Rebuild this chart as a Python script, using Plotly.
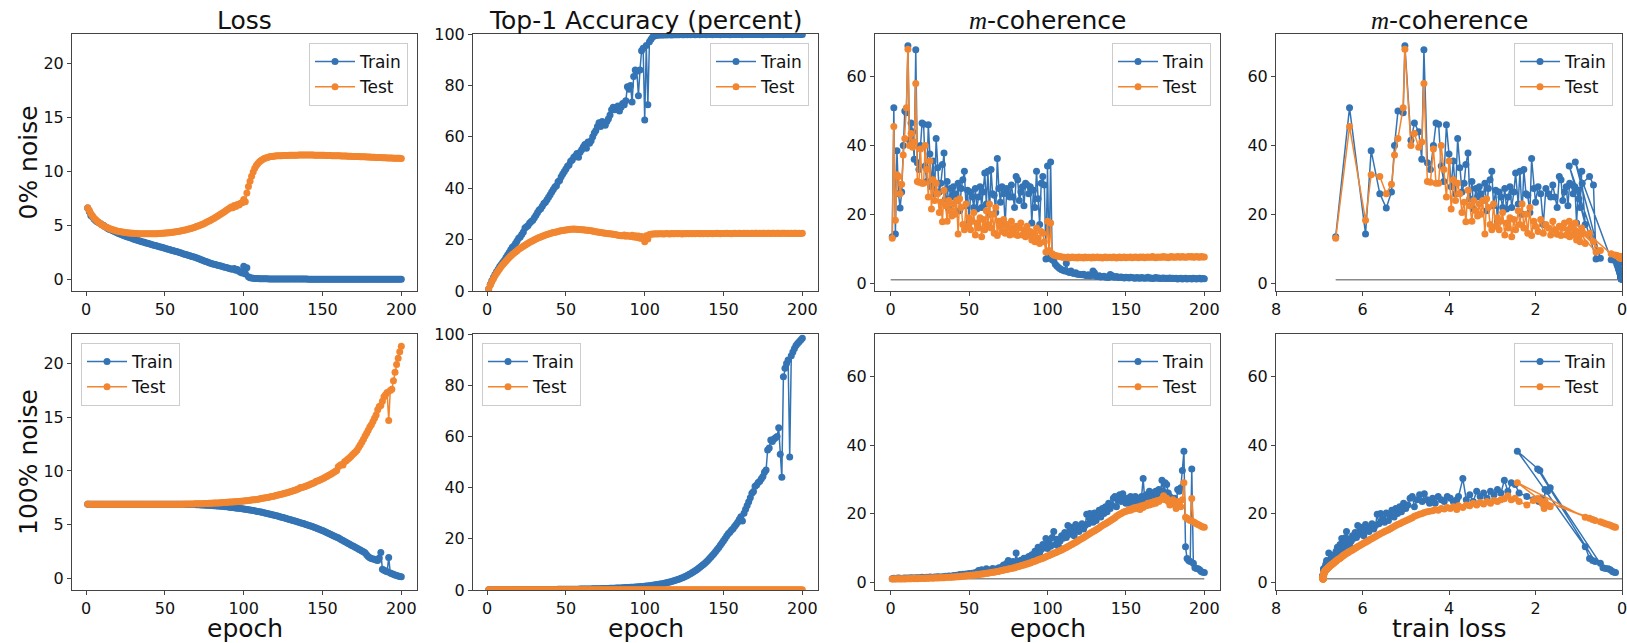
import plotly.graph_objects as go

# ---------------- data ----------------
epochs = list(range(1, 201))

# 0% noise ------------------------------------------------------
loss0_train = [
    6.62, 6.30, 5.93, 5.80, 5.60, 5.45, 5.33, 5.26, 5.18, 5.06,
    5.02, 4.88, 4.80, 4.70, 4.63, 4.58, 4.50, 4.43, 4.36, 4.30,
    4.24, 4.18, 4.12, 4.06, 4.00, 3.95, 3.90, 3.85, 3.80, 3.75,
    3.70, 3.65, 3.61, 3.56, 3.52, 3.47, 3.43, 3.38, 3.34, 3.30,
    3.26, 3.22, 3.17, 3.13, 3.09, 3.05, 3.01, 2.97, 2.92, 2.88,
    2.84, 2.80, 2.76, 2.71, 2.67, 2.63, 2.59, 2.55, 2.50, 2.46,
    2.40, 2.36, 2.31, 2.27, 2.22, 2.18, 2.13, 2.09, 2.04, 2.00,
    1.94, 1.88, 1.82, 1.76, 1.70, 1.65, 1.60, 1.55, 1.50, 1.45,
    1.41, 1.37, 1.33, 1.29, 1.25, 1.21, 1.17, 1.13, 1.09, 1.05,
    1.01, 0.97, 0.93, 1.00, 0.85, 0.92, 0.75, 0.66, 0.60, 1.22,
    0.50, 1.08, 0.25, 0.16, 0.12, 0.10, 0.09, 0.08, 0.07, 0.065,
    0.060, 0.056, 0.052, 0.049, 0.046, 0.044, 0.042, 0.040, 0.038, 0.036,
    0.035, 0.034, 0.033, 0.032, 0.031, 0.030, 0.029, 0.028, 0.028, 0.027,
    0.026, 0.026, 0.025, 0.025, 0.024, 0.024, 0.023, 0.023, 0.022, 0.022,
    0.021, 0.021, 0.021, 0.020, 0.020, 0.020, 0.019, 0.019, 0.019, 0.018,
    0.018, 0.018, 0.017, 0.017, 0.017, 0.016, 0.016, 0.016, 0.016, 0.015,
    0.015, 0.015, 0.015, 0.014, 0.014, 0.014, 0.014, 0.014, 0.013, 0.013,
    0.013, 0.013, 0.013, 0.012, 0.012, 0.012, 0.012, 0.012, 0.012, 0.011,
    0.011, 0.011, 0.011, 0.011, 0.011, 0.011, 0.010, 0.010, 0.010, 0.010,
    0.010, 0.010, 0.010, 0.010, 0.010, 0.009, 0.009, 0.009, 0.009, 0.009,
]
loss0_test = [
    6.65, 6.40, 6.10, 5.90, 5.70, 5.55, 5.40, 5.28, 5.17, 5.07,
    4.98, 4.90, 4.83, 4.76, 4.70, 4.65, 4.60, 4.55, 4.51, 4.47,
    4.44, 4.41, 4.38, 4.36, 4.34, 4.32, 4.30, 4.29, 4.28, 4.27,
    4.26, 4.25, 4.24, 4.23, 4.23, 4.22, 4.22, 4.22, 4.22, 4.22,
    4.22, 4.23, 4.23, 4.24, 4.24, 4.25, 4.26, 4.27, 4.28, 4.29,
    4.30, 4.32, 4.33, 4.35, 4.37, 4.39, 4.41, 4.43, 4.46, 4.49,
    4.52, 4.55, 4.58, 4.62, 4.66, 4.70, 4.74, 4.79, 4.84, 4.89,
    4.94, 5.00, 5.06, 5.12, 5.19, 5.26, 5.33, 5.41, 5.49, 5.57,
    5.65, 5.74, 5.83, 5.92, 6.01, 6.10, 6.20, 6.30, 6.40, 6.50,
    6.60, 6.72, 6.65, 6.85, 6.75, 6.95, 6.90, 7.05, 7.10, 7.40,
    7.20, 8.00, 8.60, 9.10, 9.55, 9.95, 10.30, 10.55, 10.75, 10.90,
    11.02, 11.12, 11.20, 11.26, 11.31, 11.35, 11.38, 11.40, 11.42, 11.44,
    11.45, 11.46, 11.47, 11.47, 11.48, 11.48, 11.49, 11.49, 11.50, 11.50,
    11.50, 11.51, 11.51, 11.51, 11.52, 11.52, 11.52, 11.52, 11.52, 11.52,
    11.52, 11.52, 11.52, 11.52, 11.51, 11.51, 11.51, 11.51, 11.50, 11.50,
    11.50, 11.49, 11.49, 11.48, 11.48, 11.47, 11.47, 11.46, 11.46, 11.45,
    11.45, 11.44, 11.44, 11.43, 11.43, 11.42, 11.41, 11.41, 11.40, 11.40,
    11.39, 11.39, 11.38, 11.37, 11.37, 11.36, 11.36, 11.35, 11.34, 11.34,
    11.33, 11.32, 11.32, 11.31, 11.30, 11.30, 11.29, 11.28, 11.28, 11.27,
    11.26, 11.26, 11.25, 11.25, 11.24, 11.23, 11.23, 11.22, 11.22, 11.21,
]
acc0_train = [
    0.8, 2.5, 4.0, 5.3, 6.4, 7.5, 8.5, 9.5, 10.3, 11.2,
    12.0, 13.0, 14.0, 15.0, 16.0, 17.0, 17.5, 18.5, 19.5, 20.5,
    21.0, 22.0, 23.0, 24.5, 25.0, 25.5, 26.5, 27.0, 27.5, 28.5,
    29.5, 30.5, 31.5, 32.0, 33.0, 34.0, 34.5, 35.5, 36.5, 37.5,
    38.5, 39.5, 40.5, 41.0, 42.5, 43.0, 44.5, 45.5, 46.5, 47.5,
    48.5, 49.0, 50.5, 51.0, 52.0, 52.5, 53.5, 52.0, 54.0, 55.0,
    56.0, 57.0, 55.5, 58.0, 57.5, 58.5, 60.0, 61.5, 62.5, 64.0,
    65.5, 64.0, 66.0, 65.0, 64.5, 66.0, 67.0, 68.5, 70.5, 71.5,
    70.5, 71.0, 72.0, 70.0, 71.5, 73.0, 72.5, 74.0, 79.5, 78.5,
    80.0, 73.5, 83.5, 86.0, 85.5, 76.0, 86.0, 93.5, 94.5, 66.5,
    95.5, 72.5, 97.0, 98.0, 98.8, 99.2, 99.4, 99.5, 99.6, 99.6,
    99.6, 99.6, 99.7, 99.6, 99.7, 99.7, 99.6, 99.7, 99.7, 99.7,
    99.7, 99.7, 99.8, 99.7, 99.7, 99.8, 99.7, 99.8, 99.7, 99.8,
    99.8, 99.7, 99.8, 99.8, 99.7, 99.8, 99.8, 99.8, 99.7, 99.8,
    99.8, 99.8, 99.7, 99.8, 99.8, 99.8, 99.8, 99.7, 99.8, 99.8,
    99.8, 99.8, 99.8, 99.7, 99.8, 99.8, 99.8, 99.8, 99.8, 99.8,
    99.8, 99.7, 99.8, 99.8, 99.8, 99.8, 99.8, 99.8, 99.8, 99.8,
    99.8, 99.8, 99.8, 99.8, 99.7, 99.8, 99.8, 99.8, 99.8, 99.8,
    99.8, 99.8, 99.8, 99.8, 99.8, 99.8, 99.8, 99.7, 99.8, 99.8,
    99.8, 99.8, 99.8, 99.8, 99.8, 99.8, 99.8, 99.8, 99.8, 99.8,
]
acc0_test = [
    0.8, 2.3, 3.6, 4.8, 5.9, 6.9, 7.8, 8.7, 9.5, 10.3,
    11.0, 11.7, 12.4, 13.0, 13.6, 14.2, 14.7, 15.2, 15.7, 16.2,
    16.6, 17.0, 17.4, 17.8, 18.2, 18.6, 19.0, 19.3, 19.6, 19.9,
    20.2, 20.5, 20.8, 21.0, 21.3, 21.5, 21.8, 22.0, 22.2, 22.4,
    22.6, 22.8, 22.9, 23.0, 23.2, 23.3, 23.4, 23.5, 23.6, 23.7,
    23.8, 23.9, 24.0, 24.0, 24.1, 24.0, 24.0, 23.9, 23.9, 23.8,
    23.8, 23.7, 23.6, 23.6, 23.5, 23.4, 23.3, 23.2, 23.1, 23.0,
    22.9, 22.8, 22.7, 22.6, 22.5, 22.4, 22.3, 22.3, 22.2, 22.1,
    22.0, 21.9, 21.7, 21.6, 21.5, 21.5, 21.8, 21.3, 21.6, 21.4,
    21.2, 21.7, 21.0, 21.5, 20.8, 21.4, 20.5, 21.2, 20.3, 19.2,
    21.5, 20.2, 22.0, 22.1, 22.2, 22.2, 22.3, 22.2, 22.3, 22.3,
    22.3, 22.2, 22.3, 22.4, 22.3, 22.2, 22.4, 22.3, 22.3, 22.4,
    22.3, 22.4, 22.3, 22.2, 22.4, 22.3, 22.4, 22.3, 22.4, 22.3,
    22.4, 22.3, 22.4, 22.4, 22.3, 22.4, 22.3, 22.4, 22.4, 22.3,
    22.4, 22.4, 22.3, 22.4, 22.4, 22.5, 22.4, 22.3, 22.4, 22.4,
    22.4, 22.5, 22.4, 22.4, 22.3, 22.4, 22.5, 22.4, 22.4, 22.5,
    22.4, 22.4, 22.5, 22.4, 22.5, 22.4, 22.4, 22.5, 22.4, 22.5,
    22.5, 22.4, 22.5, 22.4, 22.5, 22.5, 22.4, 22.5, 22.5, 22.4,
    22.5, 22.5, 22.4, 22.5, 22.5, 22.4, 22.5, 22.5, 22.5, 22.4,
    22.5, 22.4, 22.5, 22.4, 22.5, 22.5, 22.4, 22.5, 22.4, 22.5,
]
mcoh0_train = [
    13.5, 51.0, 14.3, 38.5, 26.0, 21.8, 26.5, 40.0, 50.0, 49.5,
    69.0, 41.5, 46.5, 44.0, 36.0, 67.8, 35.0, 33.0, 40.0, 46.5,
    46.2, 34.0, 29.5, 46.0, 37.5, 28.0, 35.5, 26.0, 42.0, 33.5,
    26.5, 29.0, 34.5, 37.8, 24.5, 29.5, 21.5, 27.5, 25.0, 28.0,
    26.0, 24.0, 29.0, 21.0, 27.5, 30.0, 32.5, 22.5, 27.0, 18.0,
    26.5, 25.0, 22.0, 27.5, 21.5, 25.0, 28.0, 22.0, 26.5, 32.0,
    23.0, 32.5, 20.0, 33.0, 26.0, 25.5, 20.5, 36.2, 27.5, 23.5,
    28.0, 26.0, 17.0, 27.5, 26.0, 25.0, 28.5, 25.0, 22.0, 31.0,
    30.0, 24.0, 26.5, 28.0, 22.5, 29.0, 28.5, 26.0, 28.0, 17.5,
    27.0, 22.0, 32.5, 24.5, 17.0, 29.0, 31.0, 28.5, 7.0, 34.0,
    7.2, 35.2, 6.8, 6.5, 5.5, 5.0, 4.5, 4.2, 3.9, 3.7,
    3.5, 5.8, 3.3, 3.1, 3.5, 2.9, 2.8, 3.0, 2.6, 2.6,
    2.5, 2.4, 2.6, 2.3, 2.2, 2.4, 2.1, 2.2, 3.5, 2.9,
    2.0, 1.9, 2.1, 1.8, 1.9, 2.0, 1.7, 1.8, 1.6, 2.5,
    2.2, 1.8, 1.7, 1.9, 1.6, 1.7, 1.8, 1.6, 1.5, 1.7,
    1.6, 1.5, 1.7, 1.6, 1.5, 1.4, 1.6, 1.5, 1.4, 1.6,
    1.5, 1.4, 1.5, 1.7, 1.4, 1.5, 1.3, 1.4, 1.6, 1.4,
    1.5, 1.3, 1.4, 1.5, 1.3, 1.4, 1.3, 1.5, 1.3, 1.4,
    1.3, 1.4, 1.2, 1.3, 1.4, 1.2, 1.3, 1.4, 1.2, 1.3,
    1.3, 1.2, 1.4, 1.3, 1.2, 1.3, 1.4, 1.2, 1.3, 1.25,
]
mcoh0_test = [
    13.0, 45.5, 18.3, 31.5, 31.0, 26.0, 28.7, 37.2, 42.0, 51.0,
    68.0, 40.0, 43.5, 39.5, 41.0, 58.0, 29.5, 29.3, 39.0, 29.0,
    29.0, 40.0, 33.0, 25.0, 35.5, 21.5, 30.0, 24.0, 29.0, 26.0,
    20.5, 23.5, 17.8, 27.0, 22.5, 18.0, 24.0, 21.0, 19.5, 23.0,
    20.0, 24.0, 14.3, 24.5, 22.0, 17.0, 15.5, 23.0, 16.5, 19.0,
    15.5, 18.0, 20.5, 14.0, 17.5, 16.0, 19.0, 13.5, 18.5, 15.5,
    21.0, 17.0, 23.0, 16.0, 20.0, 14.5, 22.0, 13.8, 18.0, 16.5,
    15.0, 18.5, 14.5, 17.0, 16.0, 14.0, 18.0, 15.5, 14.2, 16.5,
    13.8, 16.0, 17.5, 14.0, 15.5, 13.5, 16.5, 14.0, 15.0, 12.5,
    14.5, 12.0, 16.0, 13.0, 11.5, 15.0, 14.5, 12.0, 9.0, 18.0,
    9.5, 17.5, 8.5, 8.2, 8.0, 7.9, 7.8, 7.7, 7.6, 7.5,
    7.5, 7.4, 7.6, 7.3, 7.5, 7.6, 7.4, 7.5, 7.3, 7.6,
    7.4, 7.5, 7.3, 7.6, 7.4, 7.5, 7.5, 7.3, 7.6, 7.4,
    7.5, 7.6, 7.4, 7.5, 7.3, 7.5, 7.6, 7.4, 7.5, 7.5,
    7.4, 7.6, 7.5, 7.3, 7.5, 7.6, 7.4, 7.5, 7.6, 7.4,
    7.5, 7.5, 7.6, 7.4, 7.5, 7.6, 7.5, 7.4, 7.6, 7.5,
    7.6, 7.4, 7.5, 7.6, 7.5, 7.5, 7.7, 7.5, 7.4, 7.6,
    7.5, 7.6, 7.5, 7.7, 7.5, 7.6, 7.4, 7.6, 7.7, 7.5,
    7.6, 7.5, 7.7, 7.6, 7.5, 7.7, 7.6, 7.5, 7.6, 7.7,
    7.6, 7.7, 7.5, 7.6, 7.7, 7.6, 7.5, 7.7, 7.6, 7.6,
]

# 100% noise -----------------------------------------------------
loss1_train = [
    6.91, 6.91, 6.91, 6.91, 6.91, 6.91, 6.91, 6.91, 6.91, 6.91,
    6.91, 6.91, 6.91, 6.91, 6.91, 6.91, 6.91, 6.91, 6.91, 6.91,
    6.91, 6.91, 6.91, 6.91, 6.91, 6.91, 6.91, 6.91, 6.91, 6.91,
    6.91, 6.91, 6.91, 6.91, 6.91, 6.91, 6.91, 6.91, 6.91, 6.91,
    6.91, 6.91, 6.91, 6.91, 6.91, 6.90, 6.90, 6.90, 6.90, 6.90,
    6.90, 6.90, 6.90, 6.90, 6.90, 6.90, 6.90, 6.90, 6.90, 6.90,
    6.90, 6.90, 6.89, 6.89, 6.89, 6.88, 6.88, 6.87, 6.87, 6.86,
    6.86, 6.85, 6.84, 6.84, 6.83, 6.82, 6.81, 6.80, 6.79, 6.78,
    6.77, 6.76, 6.75, 6.73, 6.72, 6.71, 6.69, 6.68, 6.66, 6.65,
    6.63, 6.61, 6.60, 6.58, 6.56, 6.54, 6.52, 6.50, 6.48, 6.46,
    6.44, 6.42, 6.39, 6.37, 6.34, 6.32, 6.29, 6.26, 6.23, 6.20,
    6.17, 6.14, 6.11, 6.07, 6.04, 6.00, 5.97, 5.93, 5.89, 5.85,
    5.82, 5.78, 5.74, 5.70, 5.66, 5.62, 5.58, 5.53, 5.49, 5.45,
    5.40, 5.36, 5.32, 5.27, 5.23, 5.19, 5.14, 5.10, 5.05, 5.00,
    4.95, 4.90, 4.85, 4.80, 4.74, 4.68, 4.62, 4.57, 4.51, 4.45,
    4.38, 4.32, 4.25, 4.18, 4.11, 4.04, 3.97, 3.90, 3.82, 3.78,
    3.68, 3.60, 3.52, 3.44, 3.36, 3.28, 3.20, 3.12, 3.04, 2.96,
    2.88, 2.80, 2.72, 2.64, 2.56, 2.47, 2.38, 2.20, 2.05, 1.92,
    1.85, 1.80, 1.78, 1.72, 1.66, 1.90, 2.42, 0.85, 0.75, 0.68,
    0.62, 1.95, 0.50, 0.44, 0.38, 0.32, 0.27, 0.22, 0.18, 0.15,
]
loss1_test = [
    6.92, 6.91, 6.91, 6.91, 6.91, 6.91, 6.91, 6.91, 6.91, 6.91,
    6.91, 6.91, 6.91, 6.91, 6.91, 6.91, 6.91, 6.91, 6.91, 6.91,
    6.91, 6.91, 6.91, 6.91, 6.91, 6.91, 6.91, 6.91, 6.91, 6.91,
    6.91, 6.91, 6.91, 6.91, 6.91, 6.91, 6.91, 6.91, 6.91, 6.91,
    6.91, 6.91, 6.91, 6.91, 6.91, 6.91, 6.91, 6.91, 6.91, 6.91,
    6.91, 6.91, 6.91, 6.91, 6.91, 6.91, 6.91, 6.91, 6.91, 6.91,
    6.91, 6.91, 6.92, 6.92, 6.92, 6.93, 6.93, 6.93, 6.94, 6.94,
    6.95, 6.95, 6.96, 6.96, 6.97, 6.97, 6.98, 6.99, 6.99, 7.00,
    7.01, 7.02, 7.02, 7.03, 7.04, 7.05, 7.06, 7.07, 7.08, 7.09,
    7.10, 7.11, 7.12, 7.13, 7.14, 7.15, 7.16, 7.18, 7.19, 7.20,
    7.22, 7.23, 7.25, 7.27, 7.29, 7.31, 7.33, 7.35, 7.37, 7.40,
    7.43, 7.45, 7.48, 7.50, 7.53, 7.56, 7.59, 7.62, 7.65, 7.70,
    7.73, 7.77, 7.80, 7.84, 7.88, 7.92, 7.96, 8.00, 8.05, 8.10,
    8.14, 8.19, 8.24, 8.29, 8.34, 8.45, 8.45, 8.50, 8.56, 8.62,
    8.68, 8.74, 8.80, 8.86, 8.93, 9.05, 9.06, 9.13, 9.20, 9.28,
    9.35, 9.43, 9.51, 9.59, 9.68, 9.77, 9.86, 9.95, 10.05, 10.40,
    10.50, 10.60, 10.55, 10.85, 10.95, 11.10, 11.20, 11.35, 11.50, 11.65,
    11.80, 11.95, 12.20, 12.45, 12.70, 12.95, 13.25, 13.50, 13.80, 14.10,
    14.30, 14.60, 14.90, 15.20, 15.70, 16.00, 16.10, 16.50, 16.90, 17.10,
    17.30, 14.70, 17.50, 17.60, 18.40, 19.20, 19.90, 20.50, 21.10, 21.60,
]
acc1_train = [
    0.10, 0.10, 0.11, 0.11, 0.11, 0.12, 0.12, 0.12, 0.12, 0.13,
    0.13, 0.13, 0.13, 0.14, 0.14, 0.14, 0.14, 0.15, 0.15, 0.15,
    0.15, 0.16, 0.16, 0.16, 0.17, 0.17, 0.17, 0.18, 0.18, 0.18,
    0.19, 0.19, 0.19, 0.20, 0.20, 0.21, 0.21, 0.21, 0.22, 0.22,
    0.23, 0.23, 0.24, 0.24, 0.25, 0.25, 0.26, 0.26, 0.27, 0.28,
    0.28, 0.29, 0.30, 0.30, 0.31, 0.32, 0.33, 0.34, 0.35, 0.36,
    0.37, 0.38, 0.39, 0.40, 0.42, 0.43, 0.44, 0.46, 0.47, 0.49,
    0.50, 0.52, 0.54, 0.56, 0.58, 0.60, 0.62, 0.64, 0.66, 0.69,
    0.71, 0.74, 0.77, 0.80, 0.83, 0.86, 0.89, 0.93, 0.96, 1.00,
    1.04, 1.08, 1.12, 1.16, 1.21, 1.26, 1.31, 1.36, 1.41, 1.47,
    1.53, 1.60, 1.67, 1.75, 1.83, 1.92, 2.01, 2.11, 2.21, 2.32,
    2.44, 2.56, 2.69, 2.83, 2.98, 3.14, 3.31, 3.49, 3.68, 3.88,
    4.10, 4.33, 4.57, 4.83, 5.10, 5.39, 5.70, 6.02, 6.36, 6.72,
    7.10, 7.50, 7.92, 8.37, 8.84, 9.33, 9.85, 10.40, 10.97, 11.57,
    12.20, 12.86, 13.55, 14.27, 15.02, 15.80, 16.61, 17.45, 18.32, 19.22,
    20.15, 21.10, 22.00, 22.60, 23.30, 23.90, 24.80, 25.60, 26.50, 27.50,
    28.60, 27.00, 30.00, 31.50, 33.00, 34.50, 36.00, 37.80, 38.50, 40.50,
    41.00, 42.00, 42.50, 43.50, 44.30, 46.00, 46.90, 54.70, 55.50, 58.60,
    58.00, 59.00, 59.50, 60.00, 63.40, 53.00, 44.00, 83.30, 86.60, 88.50,
    89.80, 52.00, 91.50, 93.00, 94.30, 95.50, 96.30, 97.00, 97.70, 98.30,
]
acc1_test = [
    0.10, 0.11, 0.09, 0.10, 0.12, 0.10, 0.09, 0.11, 0.10, 0.10,
    0.09, 0.10, 0.11, 0.10, 0.10, 0.12, 0.10, 0.09, 0.10, 0.11,
    0.10, 0.09, 0.10, 0.11, 0.10, 0.10, 0.12, 0.10, 0.09, 0.10,
    0.11, 0.10, 0.10, 0.09, 0.10, 0.11, 0.10, 0.12, 0.10, 0.09,
    0.10, 0.10, 0.11, 0.10, 0.09, 0.10, 0.11, 0.10, 0.10, 0.12,
    0.10, 0.09, 0.10, 0.11, 0.10, 0.10, 0.09, 0.11, 0.10, 0.10,
    0.12, 0.10, 0.09, 0.10, 0.11, 0.10, 0.10, 0.09, 0.11, 0.10,
    0.10, 0.11, 0.10, 0.09, 0.10, 0.12, 0.10, 0.10, 0.11, 0.09,
    0.10, 0.10, 0.11, 0.10, 0.09, 0.10, 0.10, 0.12, 0.10, 0.11,
    0.09, 0.10, 0.10, 0.11, 0.10, 0.10, 0.09, 0.11, 0.10, 0.10,
    0.11, 0.10, 0.09, 0.10, 0.12, 0.10, 0.10, 0.11, 0.09, 0.10,
    0.10, 0.11, 0.10, 0.09, 0.10, 0.10, 0.12, 0.10, 0.11, 0.10,
    0.09, 0.10, 0.10, 0.11, 0.10, 0.12, 0.10, 0.09, 0.10, 0.11,
    0.10, 0.10, 0.09, 0.11, 0.10, 0.10, 0.12, 0.10, 0.09, 0.10,
    0.11, 0.10, 0.10, 0.09, 0.10, 0.11, 0.10, 0.10, 0.12, 0.10,
    0.09, 0.10, 0.11, 0.10, 0.10, 0.09, 0.11, 0.10, 0.10, 0.12,
    0.10, 0.09, 0.10, 0.11, 0.10, 0.10, 0.09, 0.11, 0.10, 0.10,
    0.12, 0.10, 0.09, 0.10, 0.11, 0.10, 0.10, 0.09, 0.11, 0.10,
    0.10, 0.11, 0.10, 0.09, 0.10, 0.12, 0.10, 0.10, 0.11, 0.09,
    0.10, 0.10, 0.11, 0.10, 0.09, 0.10, 0.10, 0.12, 0.10, 0.11,
]
mcoh1_train = [
    1.0, 1.1, 1.0, 1.1, 1.2, 1.1, 1.0, 1.1, 1.2, 1.1,
    1.2, 1.1, 1.3, 1.2, 1.1, 1.3, 1.2, 1.3, 1.2, 1.4,
    1.3, 1.2, 1.4, 1.3, 1.5, 1.4, 1.3, 1.5, 1.4, 1.6,
    1.5, 1.4, 1.6, 1.5, 1.7, 1.6, 1.8, 1.7, 1.6, 1.9,
    1.8, 2.0, 1.9, 2.2, 2.0, 2.3, 2.1, 2.4, 2.2, 2.5,
    2.3, 2.6, 2.4, 2.8, 2.6, 3.4, 3.0, 3.6, 2.8, 3.3,
    3.9, 3.2, 3.5, 3.0, 4.0, 3.4, 3.8, 3.1, 4.2, 3.6,
    4.5, 5.0, 4.1, 5.5, 6.3, 4.8, 5.6, 6.0, 5.2, 8.5,
    6.0, 5.5, 6.4, 5.8, 7.0, 6.2, 6.8, 7.5, 6.8, 8.0,
    7.5, 9.0, 8.2, 10.2, 8.5, 9.5, 11.0, 10.0, 12.7, 9.8,
    11.5, 10.5, 13.0, 14.8, 11.0, 12.5, 10.5, 12.0, 13.5, 12.8,
    14.5, 13.0, 16.5, 14.0, 16.0, 15.0, 13.5, 16.8, 15.2, 14.8,
    16.0, 17.0, 15.5, 16.5, 19.8, 17.0, 20.0, 18.5, 17.5, 20.2,
    18.0, 19.5, 21.0, 19.0, 21.5, 20.0, 22.0, 20.5, 23.0, 21.5,
    22.5, 24.5, 25.0, 22.0, 24.0, 25.5, 23.5, 25.8, 24.0, 23.0,
    24.5, 23.0, 25.0, 24.0, 23.5, 25.0, 24.5, 23.5, 24.0, 25.0,
    30.2, 24.0, 25.5, 23.5, 26.5, 25.0, 26.0, 24.5, 26.5, 25.5,
    27.0, 26.0, 29.7, 26.5, 29.0, 28.5, 26.0, 25.0, 24.0, 23.5,
    24.5, 22.0, 27.0, 26.5, 27.5, 32.6, 38.2, 10.3, 6.9, 6.3,
    6.0, 33.0, 5.5, 4.2, 4.0, 3.9, 3.6, 3.1, 2.9, 2.8,
]
mcoh1_test = [
    0.9, 0.9, 1.0, 0.9, 1.0, 0.9, 1.0, 1.0, 0.9, 1.0,
    1.0, 1.0, 1.0, 1.1, 1.0, 1.1, 1.0, 1.1, 1.1, 1.1,
    1.1, 1.1, 1.2, 1.1, 1.2, 1.2, 1.2, 1.2, 1.3, 1.2,
    1.3, 1.3, 1.3, 1.3, 1.4, 1.4, 1.4, 1.4, 1.5, 1.5,
    1.5, 1.6, 1.6, 1.6, 1.7, 1.7, 1.8, 1.8, 1.9, 1.9,
    2.0, 2.0, 2.1, 2.1, 2.2, 2.2, 2.3, 2.4, 2.4, 2.5,
    2.6, 2.6, 2.7, 2.8, 2.9, 2.9, 3.0, 3.1, 3.2, 3.3,
    3.4, 3.5, 3.6, 3.7, 3.8, 3.9, 4.0, 4.1, 4.2, 4.4,
    4.5, 4.6, 4.8, 4.9, 5.0, 5.2, 5.3, 5.5, 5.6, 5.8,
    6.0, 6.1, 6.3, 6.5, 6.7, 6.8, 7.0, 7.2, 7.4, 7.6,
    7.8, 8.0, 8.2, 8.4, 8.6, 8.8, 9.0, 9.2, 9.4, 9.7,
    9.9, 10.1, 10.4, 10.6, 10.9, 11.1, 11.4, 11.6, 11.9, 12.2,
    12.5, 12.7, 13.0, 13.3, 13.6, 13.9, 14.2, 14.5, 14.8, 15.0,
    15.3, 15.6, 15.9, 16.2, 16.5, 16.8, 17.0, 17.3, 17.6, 17.9,
    18.2, 18.5, 18.8, 19.2, 19.5, 19.8, 20.0, 20.3, 20.5, 20.7,
    20.8, 21.2, 21.0, 21.5, 21.3, 21.8, 21.5, 22.0, 21.2, 22.3,
    21.8, 22.5, 22.3, 23.0, 22.5, 23.2, 22.8, 23.5, 23.0, 23.8,
    23.5, 24.0, 24.3, 25.2, 24.0, 24.5, 23.5, 22.5, 23.8, 24.0,
    23.0, 21.5, 23.5, 22.5, 22.0, 24.0, 29.0, 18.9, 18.6, 18.3,
    18.0, 24.4, 17.6, 17.3, 17.0, 16.8, 16.6, 16.3, 16.1, 16.0,
]

for _arr in (loss0_train, loss0_test, acc0_train, acc0_test, mcoh0_train, mcoh0_test,
             loss1_train, loss1_test, acc1_train, acc1_test, mcoh1_train, mcoh1_test):
    assert len(_arr) == 200, len(_arr)

col_titles = ["Loss", "Top-1 Accuracy (percent)",
              '<span style="font-family:Liberation Serif"><i>m</i></span>-coherence',
              '<span style="font-family:Liberation Serif"><i>m</i></span>-coherence']
row_labels = ["0% noise", "100% noise"]
x_labels = ["epoch", "epoch", "epoch", "train loss"]
baseline_level = 1.0

# ---------------- styling ----------------
W, H = 1627, 643
BLUE = "#3474b4"
ORANGE = "#f28630"
GRAY = "#8a8a8a"
FONT = "DejaVu Sans"
TXT = "#111111"

xpix = [(72, 417), (473, 818), (875, 1220), (1276, 1622)]
ypix = [(34, 291), (334, 590)]

def px_x(v):
    return v / W

def px_y(v):
    return 1 - v / H

panels = [
    [(epochs, loss0_train, epochs, loss0_test), (epochs, acc0_train, epochs, acc0_test),
     (epochs, mcoh0_train, epochs, mcoh0_test), (loss0_train, mcoh0_train, loss0_train, mcoh0_test)],
    [(epochs, loss1_train, epochs, loss1_test), (epochs, acc1_train, epochs, acc1_test),
     (epochs, mcoh1_train, epochs, mcoh1_test), (loss1_train, mcoh1_train, loss1_train, mcoh1_test)],
]
loss_for_row = [loss0_train, loss1_train]

yranges = [[-1.08, 22.75], [0, 100], [-2.3, 72.4], [-2.3, 72.4]]
ytickvals = [[0, 5, 10, 15, 20], [0, 20, 40, 60, 80, 100], [0, 20, 40, 60], [0, 20, 40, 60]]
xranges = [[-8.95, 209.95], [-8.95, 209.95], [-10, 210], [8, 0]]
xtickvals = [[0, 50, 100, 150, 200]] * 3 + [[8, 6, 4, 2, 0]]

fig = go.Figure()
layout = dict(
    width=W, height=H,
    margin=dict(l=0, r=0, t=0, b=0, autoexpand=False),
    paper_bgcolor="white", plot_bgcolor="white",
    font=dict(family=FONT, size=16, color=TXT),
    showlegend=True,
    annotations=[],
)

axis_common = dict(
    showline=True, mirror=True, linecolor="#444444", linewidth=1,
    ticks="outside", ticklen=4, tickwidth=1, tickcolor="#444444",
    showgrid=False, zeroline=False, automargin=False, ticklabeloverflow="allow",
    tickfont=dict(family=FONT, size=16, color=TXT),
)

for r in range(2):
    for c in range(4):
        p = r * 4 + c + 1
        xs = "" if p == 1 else str(p)
        xa, ya = "x" + xs, "y" + xs
        lg = "legend" + xs
        x0, x1 = xpix[c]
        y0, y1 = ypix[r]
        layout["xaxis" + xs] = dict(axis_common, domain=[px_x(x0), px_x(x1)], anchor=ya,
                                    range=xranges[c], tickvals=xtickvals[c])
        layout["yaxis" + xs] = dict(axis_common, domain=[px_y(y1), px_y(y0)], anchor=xa,
                                    range=yranges[c], tickvals=ytickvals[c])

        trx, tr_y, tex, tey = panels[r][c]
        # reference line at m-coherence = 1
        if c == 2:
            fig.add_trace(go.Scatter(x=[0, 200], y=[baseline_level, baseline_level], mode="lines",
                                     line=dict(color=GRAY, width=1.5), showlegend=False,
                                     hoverinfo="skip", xaxis=xa, yaxis=ya))
        if c == 3:
            lr = loss_for_row[r]
            fig.add_trace(go.Scatter(x=[max(lr), 0], y=[baseline_level, baseline_level],
                                     mode="lines", line=dict(color=GRAY, width=1.5),
                                     showlegend=False, hoverinfo="skip", xaxis=xa, yaxis=ya))
        fig.add_trace(go.Scatter(x=trx, y=tr_y, mode="lines+markers", name="Train",
                                 line=dict(color=BLUE, width=1.5),
                                 marker=dict(color=BLUE, size=7),
                                 xaxis=xa, yaxis=ya, legend=lg))
        fig.add_trace(go.Scatter(x=tex, y=tey, mode="lines+markers", name="Test",
                                 line=dict(color=ORANGE, width=1.5),
                                 marker=dict(color=ORANGE, size=7),
                                 xaxis=xa, yaxis=ya, legend=lg))

        upper_left = (r == 1 and c in (0, 1))
        if upper_left:
            lx, lxa = px_x(x0 + 9), "left"
        else:
            lx, lxa = px_x(x1 - 9), "right"
        layout[lg] = dict(x=lx, xanchor=lxa, y=px_y(y0 + 9), yanchor="top",
                          xref="paper", yref="paper",
                          bgcolor="rgba(255,255,255,0.85)", bordercolor="#cccccc",
                          borderwidth=1, font=dict(family=FONT, size=17, color=TXT),
                          tracegroupgap=0, itemwidth=40)

# column titles and axis labels
for c in range(4):
    x0, x1 = xpix[c]
    layout["annotations"].append(dict(
        text=col_titles[c], x=px_x((x0 + x1) / 2), y=px_y(21), xref="paper", yref="paper",
        xanchor="center", yanchor="middle", showarrow=False,
        font=dict(family=FONT, size=25, color=TXT)))
    layout["annotations"].append(dict(
        text=x_labels[c], x=px_x((x0 + x1) / 2), y=px_y(628), xref="paper", yref="paper",
        xanchor="center", yanchor="middle", showarrow=False,
        font=dict(family=FONT, size=25, color=TXT)))

# row labels
for r in range(2):
    y0, y1 = ypix[r]
    layout["annotations"].append(dict(
        text=row_labels[r], x=px_x(28), y=px_y((y0 + y1) / 2), xref="paper", yref="paper",
        xanchor="center", yanchor="middle", textangle=-90, showarrow=False,
        font=dict(family=FONT, size=25, color=TXT)))

fig.update_layout(**layout)
# the page's default 8px body margin would shift the 1627x643 figure; remove it
fig.write_html("out.html", config={"displayModeBar": False},
               post_script="document.body.style.margin='0px';document.body.style.overflow='hidden';")
